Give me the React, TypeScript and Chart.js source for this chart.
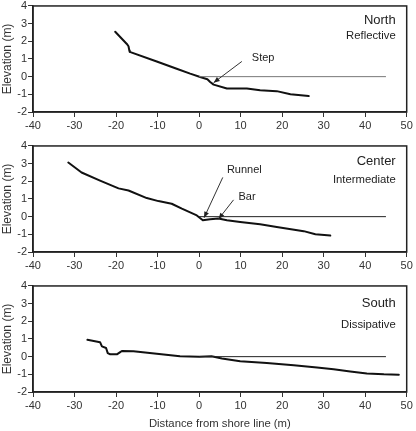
import React, { useEffect, useRef } from 'react';
import { Chart, registerables } from 'chart.js';

Chart.register(...registerables);

const FONT = "'Liberation Sans', Arial, Helvetica, sans-serif";

// Axis ranges / ticks
const xMin = -40;
const xMax = 50;
const yMin = -2;
const yMax = 4;

// Shoreline reference (still water level) line
const shoreX = [0, 45];
const shoreY = [0, 0];

// North profile (reflective)
const northX = [-20.2, -17.4, -17.0, -16.8, -16.7, -10.2, -5.4, -2.15, 0.26, 2.0, 2.67, 3.5, 6.7, 11.5, 14.7, 18.7, 22.0, 26.4];
const northY = [2.54, 1.85, 1.72, 1.48, 1.4, 0.86, 0.45, 0.17, -0.02, -0.15, -0.3, -0.45, -0.67, -0.67, -0.77, -0.82, -1.0, -1.1];

// Center profile (intermediate)
const centerX = [-31.5, -28.3, -23.85, -19.4, -17.0, -12.6, -9.8, -6.6, -4.15, -0.55, 0.9, 2.67, 4.67, 6.7, 9.9, 14.7, 18.7, 25.2, 28.0, 31.6];
const centerY = [3.06, 2.5, 2.04, 1.6, 1.48, 1.05, 0.88, 0.73, 0.45, 0.07, -0.2, -0.15, -0.1, -0.2, -0.3, -0.43, -0.58, -0.82, -1.0, -1.07];

// South profile (dissipative)
const southX = [-26.9, -23.85, -23.4, -22.4, -22.0, -21.4, -19.8, -19.0, -18.6, -15.8, -10.2, -4.6, 0, 3.0, 5.5, 9.9, 16.3, 22.8, 28.4, 32.4, 36.4, 40.4, 44.5, 48.1];
const southY = [0.95, 0.82, 0.58, 0.49, 0.2, 0.13, 0.13, 0.26, 0.32, 0.3, 0.17, 0.02, 0, 0.02, -0.1, -0.26, -0.36, -0.49, -0.62, -0.71, -0.84, -0.95, -1.0, -1.02];

type Note = { text: string; x: number; y: number; ax1: number; ay1: number; ax2: number; ay2: number };

const northNotes: Note[] = [{ text: 'Step', x: 12.7, y: 1.07, ax1: 10.3, ay1: 0.86, ax2: 3.5, ay2: -0.34 }];
const centerNotes: Note[] = [
  { text: 'Runnel', x: 6.7, y: 2.63, ax1: 5.7, ay1: 2.22, ax2: 1.2, ay2: -0.06 },
  { text: 'Bar', x: 9.5, y: 1.14, ax1: 8.3, ay1: 0.95, ax2: 4.7, ay2: -0.13 },
];
const southNotes: Note[] = [];

type PanelCfg = {
  title: string;
  subtitle: string;
  titleY: number;
  subtitleY: number;
  xs: number[];
  ys: number[];
  notes: Note[];
  shoreColor: string;
  showXTitle: boolean;
  height: number;
};

const panels: PanelCfg[] = [
  { title: 'North', subtitle: 'Reflective', titleY: 3.16, subtitleY: 2.28, xs: northX, ys: northY, notes: northNotes, shoreColor: '#777', showXTitle: false, height: 140 },
  { title: 'Center', subtitle: 'Intermediate', titleY: 3.12, subtitleY: 2.09, xs: centerX, ys: centerY, notes: centerNotes, shoreColor: '#222', showXTitle: false, height: 140 },
  { title: 'South', subtitle: 'Dissipative', titleY: 3.0, subtitleY: 1.81, xs: southX, ys: southY, notes: southNotes, shoreColor: '#222', showXTitle: true, height: 151 },
];

const zip = (xs: number[], ys: number[]) => xs.map((x, i) => ({ x, y: ys[i] }));

function Panel({ cfg }: { cfg: PanelCfg }) {
  const ref = useRef<HTMLCanvasElement>(null);
  useEffect(() => {
    const overlay = {
      id: 'overlay',
      afterDraw(chart: any) {
        const { ctx, chartArea } = chart;
        const xs = chart.scales.x;
        const ys = chart.scales.y;
        ctx.save();
        // frame
        ctx.strokeStyle = '#222';
        ctx.lineWidth = 1.5;
        ctx.strokeRect(chartArea.left, chartArea.top, chartArea.right - chartArea.left, chartArea.bottom - chartArea.top);
        // titles
        ctx.fillStyle = '#222';
        ctx.textAlign = 'right';
        ctx.textBaseline = 'middle';
        ctx.font = `13px ${FONT}`;
        ctx.fillText(cfg.title, chartArea.right - 11, ys.getPixelForValue(cfg.titleY));
        ctx.font = `11.3px ${FONT}`;
        ctx.fillText(cfg.subtitle, chartArea.right - 11, ys.getPixelForValue(cfg.subtitleY));
        // notes with arrows
        for (const n of cfg.notes) {
          ctx.font = `11px ${FONT}`;
          ctx.textAlign = 'left';
          ctx.fillStyle = '#222';
          ctx.fillText(n.text, xs.getPixelForValue(n.x), ys.getPixelForValue(n.y));
          const x1 = xs.getPixelForValue(n.ax1);
          const y1 = ys.getPixelForValue(n.ay1);
          const x2 = xs.getPixelForValue(n.ax2);
          const y2 = ys.getPixelForValue(n.ay2);
          ctx.strokeStyle = '#333';
          ctx.lineWidth = 1;
          ctx.beginPath();
          ctx.moveTo(x1, y1);
          ctx.lineTo(x2, y2);
          ctx.stroke();
          const ang = Math.atan2(y2 - y1, x2 - x1);
          const L = 6;
          const W = 2.5;
          ctx.beginPath();
          ctx.moveTo(x2, y2);
          ctx.lineTo(x2 - L * Math.cos(ang) + W * Math.sin(ang), y2 - L * Math.sin(ang) - W * Math.cos(ang));
          ctx.lineTo(x2 - L * Math.cos(ang) - W * Math.sin(ang), y2 - L * Math.sin(ang) + W * Math.cos(ang));
          ctx.closePath();
          ctx.fillStyle = '#222';
          ctx.fill();
        }
        ctx.restore();
      },
    };

    const chart = new Chart(ref.current!, {
      type: 'scatter',
      data: {
        datasets: [
          {
            data: zip(shoreX, shoreY),
            showLine: true,
            borderColor: cfg.shoreColor,
            borderWidth: 1,
            pointRadius: 0,
          },
          {
            data: zip(cfg.xs, cfg.ys),
            showLine: true,
            borderColor: '#111',
            borderWidth: 2,
            borderJoinStyle: 'round',
            borderCapStyle: 'round',
            pointRadius: 0,
            tension: 0,
          },
        ],
      },
      options: {
        animation: false,
        responsive: true,
        maintainAspectRatio: false,
        layout: { padding: { top: 5, right: 9.3, left: 0, bottom: 0 } },
        plugins: { legend: { display: false }, tooltip: { enabled: false } },
        scales: {
          x: {
            type: 'linear',
            min: xMin,
            max: xMax,
            ticks: { stepSize: 10, color: '#333', font: { family: FONT, size: 11 }, padding: 2, maxRotation: 0 },
            grid: { drawOnChartArea: false, drawTicks: true, tickLength: 5, color: '#333', lineWidth: 1 },
            border: { display: true, color: '#222', width: 1.5 },
            title: {
              display: cfg.showXTitle,
              text: 'Distance from shore line (m)',
              color: '#333',
              font: { family: FONT, size: 11.3 },
              padding: 0,
            },
            afterFit: (s: any) => {
              s.height = cfg.showXTitle ? 39 : 28;
            },
          },
          y: {
            type: 'linear',
            min: yMin,
            max: yMax,
            ticks: { stepSize: 1, color: '#333', font: { family: FONT, size: 11, lineHeight: 0.9 }, padding: 1 },
            grid: { drawOnChartArea: false, drawTicks: true, tickLength: 5, color: '#333', lineWidth: 1 },
            border: { display: true, color: '#222', width: 1.5 },
            title: {
              display: true,
              text: 'Elevation (m)',
              color: '#333',
              font: { family: FONT, size: 12 },
              padding: 0,
            },
            afterFit: (s: any) => {
              s.width = 33;
            },
          },
        },
      },
      plugins: [overlay],
    } as any);
    return () => chart.destroy();
  }, []);
  return (
    <div style={{ position: 'relative', width: 416, height: cfg.height }}>
      <canvas ref={ref} />
    </div>
  );
}

export default function App() {
  return (
    <div style={{ position: 'absolute', left: 0, top: 0, width: 416, height: 431, background: '#fff' }}>
      {panels.map((p) => (
        <Panel key={p.title} cfg={p} />
      ))}
    </div>
  );
}
